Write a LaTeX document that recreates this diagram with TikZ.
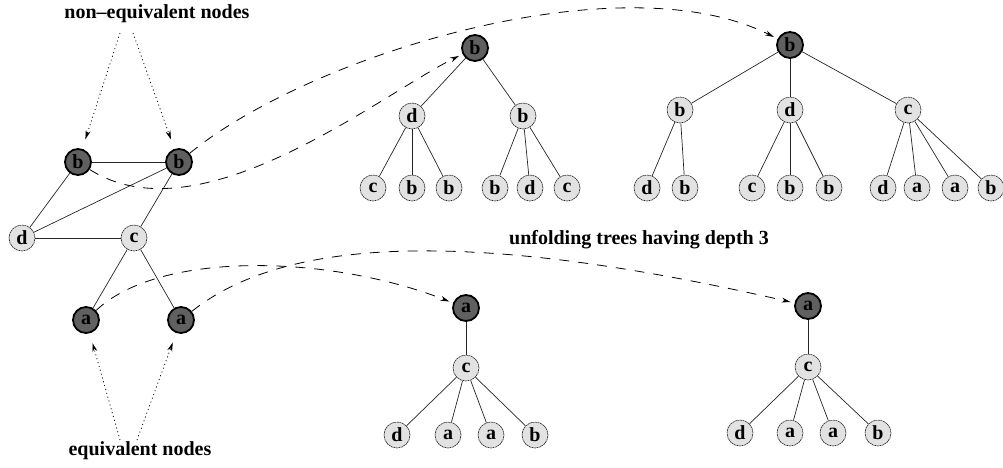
\documentclass[tikz,border=0pt]{standalone}
\usepackage{fontspec}
\setmainfont{Liberation Serif}
\usetikzlibrary{arrows.meta}
\definecolor{darknode}{RGB}{96,96,96}
\definecolor{lightnode}{RGB}{226,226,226}

\begin{document}
\begin{tikzpicture}[x=1pt,y=-1pt,
  font=\fontsize{20}{22}\selectfont\bfseries,
  dk/.style={circle,draw=black,line width=1.8pt,fill=darknode,minimum size=26pt,inner sep=0pt},
  lt/.style={circle,draw=black!85,line width=0.6pt,dash pattern=on 2pt off 0.6pt,fill=lightnode,minimum size=26pt,inner sep=0pt},
  edge/.style={line width=0.7pt,black!85},
  link/.style={line width=0.8pt,dash pattern=on 10pt off 9pt,-{Stealth[length=9pt,width=5pt]},shorten >=4pt},
  hint/.style={line width=0.8pt,dash pattern=on 1pt off 3pt,-{Stealth[length=9pt,width=5pt]},shorten >=10pt},
  lbl/.style={font=\fontsize{20}{22}\selectfont\bfseries}]
\useasboundingbox (0,0) rectangle (1003,467);

% the graph
\node[dk] (gb1) at (78,162) {b};
\node[dk] (gb2) at (179,162) {b};
\node[lt] (gd) at (22,238) {d};
\node[lt] (gc) at (134,238) {c};
\node[dk] (ga1) at (86,320) {a};
\node[dk] (ga2) at (181,320) {a};
\draw[edge] (gb1) -- (gb2);
\draw[edge] (gb1) -- (gd);
\draw[edge] (gb2) -- (gd);
\draw[edge] (gb2) -- (gc);
\draw[edge] (gd) -- (gc);
\draw[edge] (gc) -- (ga1);
\draw[edge] (gc) -- (ga2);

% labels
\node[lbl] (noneq) at (157,14) {non--equivalent nodes};
\node[lbl] (eq) at (140,451) {equivalent nodes};
\node[lbl] (depth) at (639,240) {unfolding trees having depth 3};
\coordinate (n1) at (120,33);
\coordinate (n2) at (133,33);
\coordinate (e1) at (120,440);
\coordinate (e2) at (137,440);
\draw[hint] (n1) -- (gb1);
\draw[hint] (n2) -- (gb2);
\draw[hint] (e1) -- (ga1);
\draw[hint] (e2) -- (ga2);

% tree of the left b
\node[dk] (ar) at (475,48) {b};
\node[lt] (ad) at (412,116) {d};
\node[lt] (ab) at (523,116) {b};
\node[lt] (ad1) at (373,188) {c};
\node[lt] (ad2) at (412,188) {b};
\node[lt] (ad3) at (449,188) {b};
\node[lt] (ab1) at (495,188) {b};
\node[lt] (ab2) at (530,188) {d};
\node[lt] (ab3) at (567,188) {c};
\draw[edge] (ar) -- (ad);
\draw[edge] (ar) -- (ab);
\draw[edge] (ad) -- (ad1);
\draw[edge] (ad) -- (ad2);
\draw[edge] (ad) -- (ad3);
\draw[edge] (ab) -- (ab1);
\draw[edge] (ab) -- (ab2);
\draw[edge] (ab) -- (ab3);

% tree of the right b
\node[dk] (br) at (790,45) {b};
\node[lt] (bb) at (680,110) {b};
\node[lt] (bd) at (790,110) {d};
\node[lt] (bc) at (908,110) {c};
\node[lt] (bb1) at (647,188) {d};
\node[lt] (bb2) at (685,188) {b};
\node[lt] (bd1) at (752,188) {c};
\node[lt] (bd2) at (790,188) {b};
\node[lt] (bd3) at (829,188) {b};
\node[lt] (bc1) at (883,188) {d};
\node[lt] (bc2) at (917,188) {a};
\node[lt] (bc3) at (955,188) {a};
\node[lt] (bc4) at (991,188) {b};
\draw[edge] (br) -- (bb);
\draw[edge] (br) -- (bd);
\draw[edge] (br) -- (bc);
\draw[edge] (bb) -- (bb1);
\draw[edge] (bb) -- (bb2);
\draw[edge] (bd) -- (bd1);
\draw[edge] (bd) -- (bd2);
\draw[edge] (bd) -- (bd3);
\draw[edge] (bc) -- (bc1);
\draw[edge] (bc) -- (bc2);
\draw[edge] (bc) -- (bc3);
\draw[edge] (bc) -- (bc4);

% trees of the two a
\node[dk] (cr) at (466,308) {a};
\node[lt] (cc) at (466,368) {c};
\node[lt] (cc1) at (397,435) {d};
\node[lt] (cc2) at (448,435) {a};
\node[lt] (cc3) at (491,435) {a};
\node[lt] (cc4) at (535,435) {b};
\draw[edge] (cr) -- (cc);
\draw[edge] (cc) -- (cc1);
\draw[edge] (cc) -- (cc2);
\draw[edge] (cc) -- (cc3);
\draw[edge] (cc) -- (cc4);

\node[dk] (dr) at (808,306) {a};
\node[lt] (dc) at (808,367) {c};
\node[lt] (dc1) at (740,433) {d};
\node[lt] (dc2) at (790,433) {a};
\node[lt] (dc3) at (833,433) {a};
\node[lt] (dc4) at (878,433) {b};
\draw[edge] (dr) -- (dc);
\draw[edge] (dc) -- (dc1);
\draw[edge] (dc) -- (dc2);
\draw[edge] (dc) -- (dc3);
\draw[edge] (dc) -- (dc4);

% unfolding links
\draw[link] (gb1) .. controls (200,240) and (380,95) .. (ar);
\draw[link] (gb2) .. controls (310,55) and (620,-40) .. (br);
\draw[link] (ga1) .. controls (160,250) and (330,255) .. (cr);
\draw[link] (ga2) .. controls (300,225) and (520,240) .. (dr);
\end{tikzpicture}
\end{document}
